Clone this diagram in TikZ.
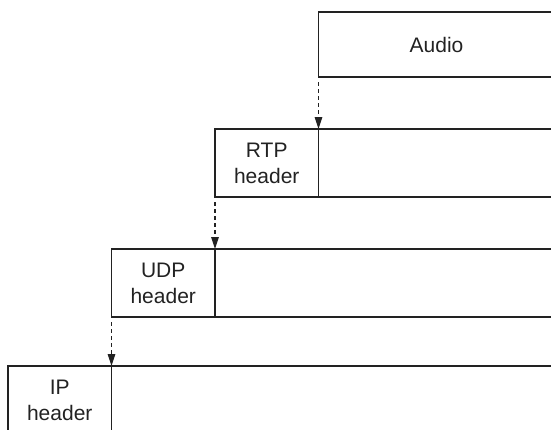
\documentclass[tikz,border=0pt]{standalone}
\usepackage{fontspec}
\setmainfont{Liberation Sans}
\usetikzlibrary{arrows.meta}
\definecolor{ink}{HTML}{222222}
\begin{document}
\begin{tikzpicture}[x=1pt,y=-1pt,
  box/.style={draw=ink,line width=1.1pt,rectangle,inner sep=0pt,outer sep=0pt,
    anchor=north west,font=\fontsize{21}{26}\selectfont,align=center,text=ink},
  hdr/.style={box,minimum width=103.5pt,minimum height=68pt},
  payload/.style={box,minimum height=68pt},
  link/.style={draw=ink,line width=1.2pt,dash pattern=on 4pt off 3pt,
    -{Triangle[length=12pt,width=7.5pt]}}]
  \useasboundingbox (0,0) rectangle (551,429);
  \clip (0,0) rectangle (551,429);

  % audio payload
  \node[box,minimum width=236pt,minimum height=65pt] (audio) at (318.5,12) {Audio};

  % RTP packet
  \node[hdr] (rtph) at (215,129) {RTP\\header};
  \node[payload,minimum width=245pt] (rtpp) at (rtph.north east) {};

  % UDP packet
  \node[hdr] (udph) at (111.5,249) {UDP\\header};
  \node[payload,minimum width=350pt] (udpp) at (udph.north east) {};

  % IP packet
  \node[hdr] (iph) at (8,366) {IP\\header};
  \node[payload,minimum width=455pt] (ipp) at (iph.north east) {};

  % encapsulation arrows
  \draw[link] ([yshift=-5pt]audio.south west) -- (rtph.north east);
  \draw[link] ([yshift=-5pt]rtph.south west) -- (udph.north east);
  \draw[link] ([yshift=-5pt]udph.south west) -- (iph.north east);
\end{tikzpicture}
\end{document}
